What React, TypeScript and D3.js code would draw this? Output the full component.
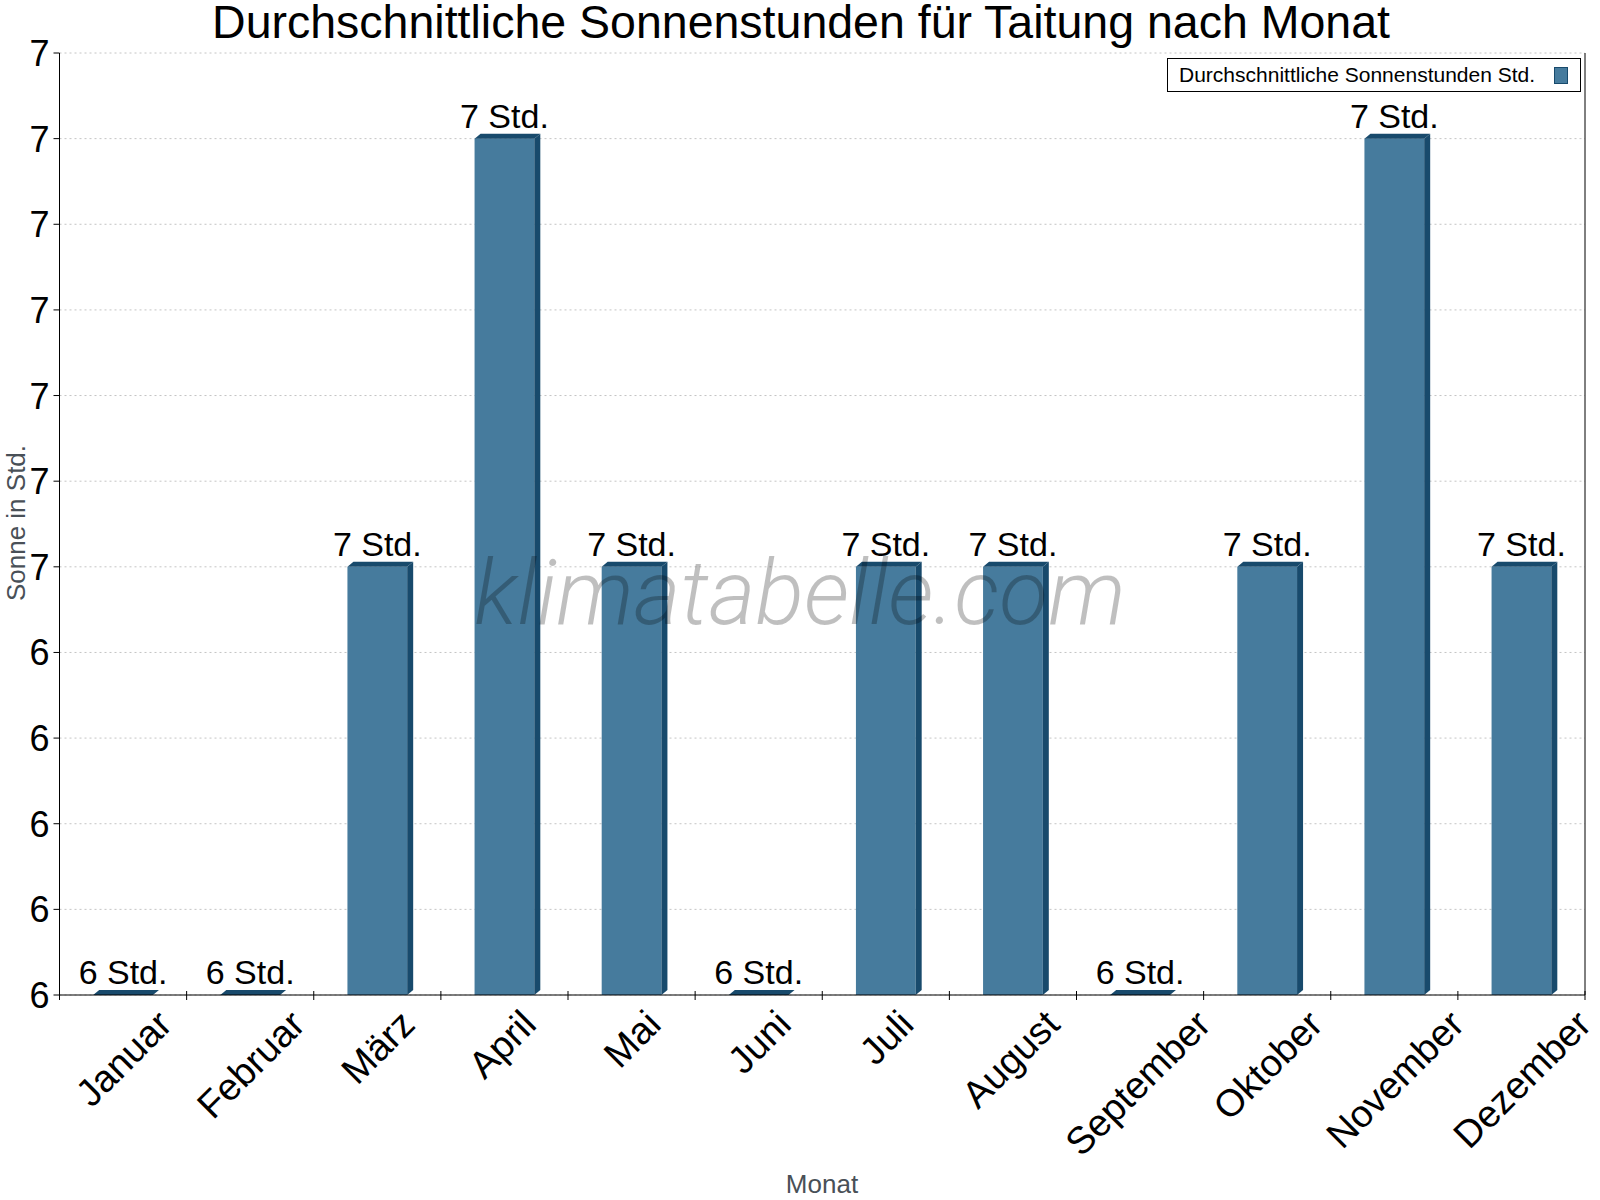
import { useEffect, useRef } from "react";
import * as d3 from "d3";

const months = [
  "Januar", "Februar", "März", "April", "Mai", "Juni",
  "Juli", "August", "September", "Oktober", "November", "Dezember",
];
const sunHours = [6.0, 6.0, 6.5, 7.0, 6.5, 6.0, 6.5, 6.5, 6.0, 6.5, 7.0, 6.5];
const yTicks = [6.0, 6.1, 6.2, 6.3, 6.4, 6.5, 6.6, 6.7, 6.8, 6.9, 7.0, 7.1];
const seriesName = "Durchschnittliche Sonnenstunden Std.";

const W = 1600;
const H = 1200;
const FONT = "'Liberation Sans', Arial, sans-serif";
const FRONT = "#467b9d";
const DARK = "#184a6c";

export default function App() {
  const ref = useRef<SVGSVGElement | null>(null);

  useEffect(() => {
    if (!ref.current) return;
    document.body.style.margin = "0";

    const m = { left: 59.5, right: 1585, top: 53, bottom: 995 };
    const svg = d3.select(ref.current);
    svg.selectAll("*").remove();

    const x = d3.scaleBand<string>().domain(months).range([m.left, m.right]);
    const y = d3.scaleLinear().domain([6.0, 7.1]).range([m.bottom, m.top]);

    // grid lines
    svg.append("g")
      .selectAll("line")
      .data(yTicks)
      .join("line")
      .attr("x1", m.left)
      .attr("x2", m.right)
      .attr("y1", (d) => y(d))
      .attr("y2", (d) => y(d))
      .attr("stroke", "#c4c4c4")
      .attr("stroke-dasharray", "2,3");

    // bars with a little 3d depth
    const dx = 6;
    const dy = 5;
    const bw = x.bandwidth() * 0.47;
    const bars = svg.append("g")
      .selectAll("g")
      .data(sunHours)
      .join("g");

    bars.each(function (v, i) {
      const g = d3.select(this);
      const cx = x(months[i])! + x.bandwidth() / 2;
      const x0 = cx - bw / 2;
      const x1 = cx + bw / 2;
      const yt = y(v);
      const yb = y(6.0);
      g.append("rect")
        .attr("x", x0)
        .attr("y", yt)
        .attr("width", bw)
        .attr("height", yb - yt)
        .attr("fill", FRONT);
      g.append("path")
        .attr("d", `M${x1},${yt}L${x1 + dx},${yt - dy}L${x1 + dx},${yb - dy}L${x1},${yb}Z`)
        .attr("fill", DARK);
      g.append("path")
        .attr("d", `M${x0},${yt}L${x0 + dx},${yt - dy}L${x1 + dx},${yt - dy}L${x1},${yt}Z`)
        .attr("fill", DARK);
      g.append("text")
        .attr("x", cx)
        .attr("y", yt - dy - 6)
        .attr("text-anchor", "middle")
        .attr("font-family", FONT)
        .attr("font-size", 34)
        .attr("fill", "#000")
        .text(`${Math.round(v)} Std.`);
    });

    // axes
    svg.append("line")
      .attr("x1", m.left).attr("x2", m.left)
      .attr("y1", m.top).attr("y2", m.bottom)
      .attr("stroke", "#000");
    svg.append("line")
      .attr("x1", m.right).attr("x2", m.right)
      .attr("y1", m.top).attr("y2", m.bottom)
      .attr("stroke", "#000");
    svg.append("line")
      .attr("x1", m.left).attr("x2", m.right)
      .attr("y1", m.bottom).attr("y2", m.bottom)
      .attr("stroke", "#000");

    const yAxis = svg.append("g");
    yTicks.forEach((t) => {
      yAxis.append("line")
        .attr("x1", m.left - 6).attr("x2", m.left)
        .attr("y1", y(t)).attr("y2", y(t))
        .attr("stroke", "#000");
      yAxis.append("text")
        .attr("x", m.left - 10)
        .attr("y", y(t))
        .attr("dy", "0.36em")
        .attr("text-anchor", "end")
        .attr("font-family", FONT)
        .attr("font-size", 36)
        .text(Math.round(t));
    });

    const xAxis = svg.append("g");
    const bounds = months.map((d) => x(d)!).concat([m.right]);
    bounds.forEach((bx) => {
      xAxis.append("line")
        .attr("x1", bx).attr("x2", bx)
        .attr("y1", m.bottom - 4).attr("y2", m.bottom + 5)
        .attr("stroke", "#000");
    });

    const fs = 38;
    months.forEach((label) => {
      const cx = x(label)! + x.bandwidth() / 2;
      const t = xAxis.append("text")
        .attr("text-anchor", "middle")
        .attr("font-family", FONT)
        .attr("font-size", fs)
        .text(label);
      const w = (t.node() as SVGTextElement).getComputedTextLength();
      const asc = 0.73 * fs;
      const desc = /[gpjyq]/.test(label) ? 0.21 * fs : 0;
      const c = (asc - desc) / 2;
      const bh = (w + asc + desc) * Math.SQRT1_2;
      const px = cx + c * Math.SQRT1_2;
      const py = 1007 + bh / 2 + c * Math.SQRT1_2;
      t.attr("transform", `translate(${px},${py}) rotate(-45)`);
    });

    // axis titles
    svg.append("text")
      .attr("x", 822)
      .attr("y", 1193)
      .attr("text-anchor", "middle")
      .attr("font-family", FONT)
      .attr("font-size", 26)
      .attr("fill", "#495057")
      .text("Monat");
    svg.append("text")
      .attr("transform", `translate(25,523) rotate(-90)`)
      .attr("text-anchor", "middle")
      .attr("font-family", FONT)
      .attr("font-size", 26)
      .attr("fill", "#495057")
      .text("Sonne in Std.");

    // title
    svg.append("text")
      .attr("x", 801)
      .attr("y", 38)
      .attr("text-anchor", "middle")
      .attr("font-family", FONT)
      .attr("font-size", 46.5)
      .text("Durchschnittliche Sonnenstunden für Taitung nach Monat");

    // legend
    const lg = svg.append("g");
    lg.append("rect")
      .attr("x", 1167.5).attr("y", 58.5)
      .attr("width", 413).attr("height", 33)
      .attr("fill", "#fff").attr("stroke", "#000");
    lg.append("text")
      .attr("x", 1179).attr("y", 82)
      .attr("font-family", FONT)
      .attr("font-size", 21)
      .text(seriesName);
    lg.append("rect")
      .attr("x", 1554.5).attr("y", 67.5)
      .attr("width", 13).attr("height", 16)
      .attr("fill", FRONT).attr("stroke", DARK);

    // watermark
    svg.append("text")
      .attr("x", 800)
      .attr("y", 624)
      .attr("text-anchor", "middle")
      .attr("font-family", "Roboto, sans-serif")
      .attr("font-weight", 300)
      .attr("font-style", "italic")
      .attr("font-size", 90)
      .attr("fill", "#000")
      .attr("fill-opacity", 0.25)
      .text("klimatabelle.com");
  }, []);

  return <svg ref={ref} width={W} height={H} style={{ display: "block", background: "#fff" }} />;
}
